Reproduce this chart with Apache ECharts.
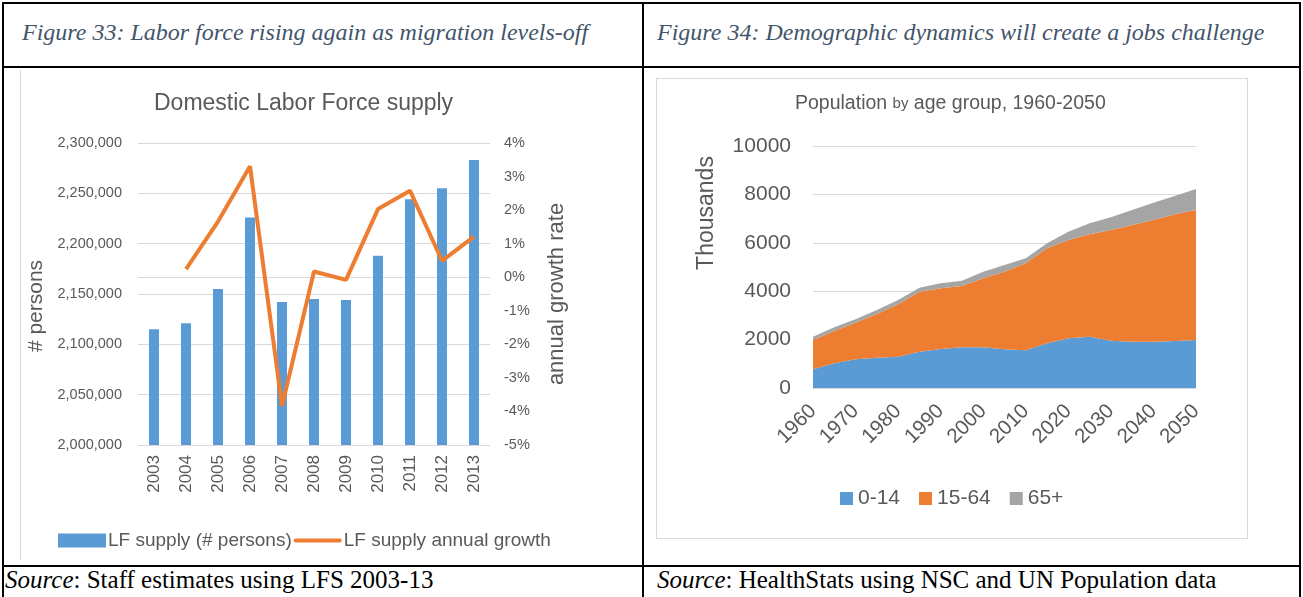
<!DOCTYPE html>
<html>
<head>
<meta charset="utf-8">
<script src="https://cdn.jsdelivr.net/npm/echarts@6/dist/echarts.min.js"></script>
<style>
  body { margin: 0; background: #fff; width: 1303px; height: 597px; overflow: hidden; position: relative; }
  .ln { position: absolute; background: #000; }
  .cap { position: absolute; font-family: "Liberation Serif", serif; font-style: italic; color: #44546A; font-size: 24px; white-space: nowrap; }
  .src { position: absolute; font-family: "Liberation Serif", serif; color: #000; font-size: 25px; white-space: nowrap; }
  .box { position: absolute; border: 1px solid #D9D9D9; }
  .chart { position: absolute; }
</style>
</head>
<body>
<!-- table lines -->
<div class="ln" style="left:2px;top:2px;width:1299px;height:2px"></div>
<div class="ln" style="left:2px;top:66px;width:1299px;height:2px"></div>
<div class="ln" style="left:2px;top:565px;width:1299px;height:2px"></div>
<div class="ln" style="left:2px;top:2px;width:2px;height:600px"></div>
<div class="ln" style="left:642px;top:2px;width:2px;height:600px"></div>
<div class="ln" style="left:1299px;top:2px;width:2px;height:600px"></div>

<div class="cap" style="left:22px;top:19px">Figure 33: Labor force rising again as migration levels-off</div>
<div class="cap" style="left:657px;top:19px">Figure 34: Demographic dynamics will create a jobs challenge</div>
<div class="src" style="left:5px;top:566px"><i>Source</i>: Staff estimates using LFS 2003-13</div>
<div class="src" style="left:657px;top:566px"><i>Source</i>: HealthStats using NSC and UN Population data</div>

<div class="box" style="left:20px;top:70px;width:640px;height:490px;border-right:none;border-top:none;border-bottom:none"></div>
<div class="box" style="left:656px;top:78px;width:590px;height:459px"></div>

<div id="c1" class="chart" style="left:4px;top:68px;width:638px;height:497px"></div>
<div id="c2" class="chart" style="left:644px;top:68px;width:655px;height:497px"></div>

<script>
// Figure 33 data
const lfYears = ['2003','2004','2005','2006','2007','2008','2009','2010','2011','2012','2013'];
const lfSupply = [2115000, 2121000, 2155000, 2226000, 2142000, 2145000, 2144000, 2188000, 2244000, 2255000, 2283000];
const lfGrowth = ['-', 0.24, 1.66, 3.31, -3.84, 0.17, -0.08, 2.03, 2.58, 0.49, 1.21];

// Figure 34 data (thousands)
const popYears = ['1960','1965','1970','1975','1980','1985','1990','1995','2000','2005','2010','2015','2020','2025','2030','2035','2040','2045','2050'];
const age0to14  = [773, 1020, 1185, 1253, 1295, 1501, 1612, 1680, 1680, 1598, 1556, 1845, 2052, 2121, 1956, 1915, 1915, 1942, 1983];
const age15to64 = [1210, 1335, 1515, 1805, 2162, 2480, 2506, 2535, 2851, 3208, 3595, 3926, 4064, 4229, 4573, 4821, 5027, 5235, 5372];
const age65plus = [138, 153, 137, 165, 179, 165, 207, 220, 275, 277, 207, 207, 343, 454, 523, 619, 716, 757, 868];

const grey = '#595959';
const font = 'Liberation Sans';
// thick line legend icon, padded to the 48x14 legend box
const lineIcon = 'path://M0,0L0.01,0M0,14L0.01,14M2,5L46,5A2,2,0,0,1,46,9L2,9A2,2,0,0,1,2,5Z';

let chart1 = echarts.init(document.getElementById('c1'));
chart1.setOption({
    textStyle: {fontFamily: font},
    title: {
        text: 'Domestic Labor Force supply',
        left: 145,
        top: 19,
        textStyle: {fontSize: 23, fontWeight: 'normal', color: grey, fontFamily: font}
    },
    grid: {left: 134, right: 152, top: 75, bottom: 120},
    legend: {
        top: 458,
        left: 49,
        itemGap: 2,
        itemWidth: 48,
        itemHeight: 14,
        textStyle: {fontSize: 19, color: grey, fontFamily: font, padding: [0, 0, 0, -3]},
        data: [{name: 'LF supply (# persons)', icon: 'rect'}, {name: 'LF supply annual growth', icon: lineIcon}]
    },
    xAxis: {
        type: 'category',
        data: lfYears,
        axisTick: {show: false},
        axisLine: {lineStyle: {color: '#D9D9D9'}},
        axisLabel: {rotate: 90, fontSize: 17, color: grey, margin: 10}
    },
    yAxis: [{
        type: 'value',
        min: 2000000,
        max: 2300000,
        interval: 50000,
        name: '# persons',
        nameLocation: 'middle',
        nameRotate: 90,
        nameGap: 88,
        nameTextStyle: {fontSize: 21, color: grey, padding: [0, 24, 0, 0]},
        axisLabel: {fontSize: 14.5, color: grey, margin: 16, formatter: (v) => v.toLocaleString('en-US')},
        splitLine: {lineStyle: {color: '#D9D9D9'}}
    }, {
        type: 'value',
        min: -5,
        max: 4,
        interval: 1,
        name: 'annual growth rate',
        nameLocation: 'middle',
        nameRotate: 90,
        nameGap: 56,
        nameTextStyle: {fontSize: 22, color: grey},
        axisLabel: {fontSize: 14.5, color: grey, margin: 14, formatter: '{value}%'},
        splitLine: {show: false}
    }],
    series: [{
        name: 'LF supply (# persons)',
        type: 'bar',
        barWidth: 10,
        itemStyle: {color: '#5B9BD5'},
        data: lfSupply
    }, {
        name: 'LF supply annual growth',
        type: 'line',
        yAxisIndex: 1,
        symbol: 'none',
        lineStyle: {width: 4, color: '#ED7D31'},
        itemStyle: {color: '#ED7D31'},
        data: lfGrowth
    }]
});

let chart2 = echarts.init(document.getElementById('c2'));
chart2.setOption({
    textStyle: {fontFamily: font},
    title: {
        text: 'Population {s|by} age group, 1960-2050',
        left: 146,
        top: 21,
        textStyle: {
            fontSize: 19.5, fontWeight: 'normal', color: grey, fontFamily: font,
            rich: {s: {fontSize: 15, color: grey, fontFamily: font}}
        }
    },
    grid: {left: 169, right: 103, top: 78, bottom: 177},
    legend: {
        top: 415,
        left: 191,
        itemGap: 19,
        itemWidth: 13,
        itemHeight: 13,
        icon: 'rect',
        textStyle: {fontSize: 21, color: grey, fontFamily: font},
        data: ['0-14', '15-64', '65+']
    },
    xAxis: {
        type: 'category',
        boundaryGap: false,
        data: popYears,
        axisTick: {show: false},
        axisLine: {lineStyle: {color: '#D9D9D9'}},
        axisLabel: {rotate: 45, fontSize: 20.5, color: grey, margin: 20, interval: 1}
    },
    yAxis: {
        type: 'value',
        min: 0,
        max: 10000,
        interval: 2000,
        name: 'Thousands',
        nameLocation: 'middle',
        nameRotate: 90,
        nameGap: 95,
        nameTextStyle: {fontSize: 23, color: grey, padding: [0, 0, 0, 108]},
        axisLabel: {fontSize: 21, color: grey, margin: 22, formatter: (v) => String(v)},
        splitLine: {lineStyle: {color: '#D9D9D9'}}
    },
    series: [
        {name: '0-14', data: age0to14, color: '#5B9BD5'},
        {name: '15-64', data: age15to64, color: '#ED7D31'},
        {name: '65+', data: age65plus, color: '#A5A5A5'}
    ].map((s) => ({
        name: s.name,
        type: 'line',
        stack: 'pop',
        symbol: 'none',
        lineStyle: {width: 0},
        itemStyle: {color: s.color},
        areaStyle: {color: s.color, opacity: 1},
        data: s.data
    }))
});
</script>
</body>
</html>
